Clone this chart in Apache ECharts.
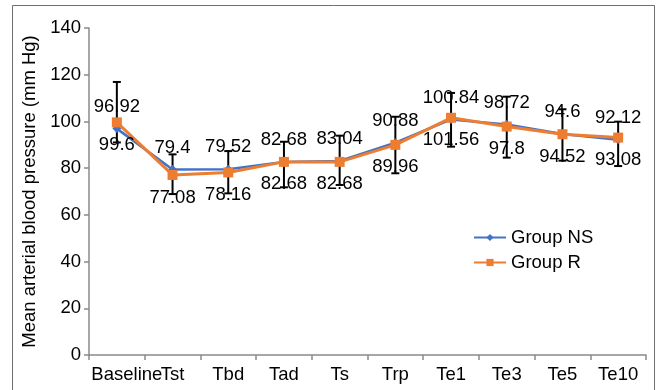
<!DOCTYPE html>
<html>
<head>
<meta charset="utf-8">
<script src="https://cdn.jsdelivr.net/npm/echarts@6/dist/echarts.min.js"></script>
<style>
  html, body { margin: 0; padding: 0; background: #fff; }
  #chart { width: 661px; height: 390px; }
</style>
</head>
<body>
<div id="chart"></div>
<script>
// Time points of the measurement
const categories = ['Baseline', 'Tst', 'Tbd', 'Tad', 'Ts', 'Trp', 'Te1', 'Te3', 'Te5', 'Te10'];

// Mean arterial pressure (mm Hg) per group
const groupNS = [96.92, 79.4, 79.52, 82.68, 83.04, 90.88, 100.84, 98.72, 94.6, 92.12];
const groupR = [99.6, 77.08, 78.16, 82.68, 82.68, 89.96, 101.56, 97.8, 94.52, 93.08];

// Error bar extents (upper and lower ends)
const errHigh = [116.9, 85.9, 87.3, 91.3, 93.9, 102.0, 112.2, 110.6, 105.2, 99.9];
const errLow = [91.0, 68.9, 69.2, 71.8, 72.8, 77.8, 89.2, 84.5, 83.2, 80.9];

// Y axis range
const yMin = 0, yMax = 140, yStep = 20;

const FONT = '"Liberation Sans", Arial, sans-serif';
const FS = 18.5;

const errData = categories.map((c, i) => [i, errLow[i], errHigh[i]]);

// the first category label sits a little right of its slot
const xData = categories.map((c, i) =>
  i === 0 ? { value: c, textStyle: { padding: [0, 0, 0, 20] } } : c
);

const chart = echarts.init(document.getElementById('chart'), null, { renderer: 'canvas' });

chart.setOption({
  animation: false,
  backgroundColor: '#fff',
  textStyle: { fontFamily: FONT },
  graphic: [{
    type: 'rect',
    shape: { x: 12.5, y: 5.5, width: 642, height: 400 },
    style: { fill: 'none', stroke: '#6f6f6f', lineWidth: 1 },
    silent: true
  }],
  grid: { left: 89, right: 15, top: 28, bottom: 35 },
  legend: {
    orient: 'vertical',
    left: 473,
    top: 228,
    padding: 0,
    itemWidth: 32,
    itemHeight: 9,
    itemGap: 6,
    textStyle: { fontFamily: FONT, fontSize: FS, color: '#000' },
    data: ['Group NS', 'Group R']
  },
  xAxis: {
    type: 'category',
    data: xData,
    boundaryGap: true,
    axisLine: { lineStyle: { color: '#8a8a8a', width: 1.5 } },
    axisTick: { show: true, length: 5, alignWithLabel: false, lineStyle: { color: '#8a8a8a', width: 1.5 } },
    axisLabel: { color: '#000', fontSize: FS, fontFamily: FONT, margin: 10, interval: 0 },
    splitLine: { show: false }
  },
  yAxis: {
    type: 'value',
    min: yMin,
    max: yMax,
    interval: yStep,
    name: 'Mean arterial blood pressure (mm Hg)',
    nameLocation: 'middle',
    nameGap: 47,
    nameTextStyle: { color: '#000', fontSize: FS, fontFamily: FONT },
    axisLine: { show: true, lineStyle: { color: '#8a8a8a', width: 1.5 } },
    axisTick: { show: true, length: 5, lineStyle: { color: '#8a8a8a', width: 1.5 } },
    axisLabel: { color: '#000', fontSize: FS, fontFamily: FONT, margin: 8 },
    splitLine: { show: false }
  },
  series: [
    {
      name: 'SD',
      type: 'custom',
      z: 1,
      silent: true,
      data: errData,
      renderItem: function (params, api) {
        const x = api.value(0);
        const lo = api.coord([x, api.value(1)]);
        const hi = api.coord([x, api.value(2)]);
        const cap = 4;
        const style = { stroke: '#000', lineWidth: 2 };
        return {
          type: 'group',
          children: [
            { type: 'line', shape: { x1: hi[0], y1: hi[1], x2: lo[0], y2: lo[1] }, style: style },
            { type: 'line', shape: { x1: hi[0] - cap, y1: hi[1], x2: hi[0] + cap, y2: hi[1] }, style: style },
            { type: 'line', shape: { x1: lo[0] - cap, y1: lo[1], x2: lo[0] + cap, y2: lo[1] }, style: style }
          ]
        };
      }
    },
    {
      name: 'Group NS',
      type: 'line',
      z: 3,
      data: groupNS,
      color: '#4472C4',
      symbol: 'diamond',
      symbolSize: 9,
      lineStyle: { width: 2.5, color: '#4472C4' },
      itemStyle: { color: '#4472C4' },
      label: {
        show: true,
        position: 'top',
        distance: 8,
        color: '#000',
        fontSize: FS,
        fontFamily: FONT
      }
    },
    {
      name: 'Group R',
      type: 'line',
      z: 4,
      data: groupR,
      color: '#ED7D31',
      symbol: 'rect',
      symbolSize: 10,
      lineStyle: { width: 3, color: '#ED7D31' },
      itemStyle: { color: '#ED7D31' },
      label: {
        show: true,
        position: 'bottom',
        distance: 8,
        color: '#000',
        fontSize: FS,
        fontFamily: FONT
      }
    }
  ]
});
</script>
</body>
</html>
